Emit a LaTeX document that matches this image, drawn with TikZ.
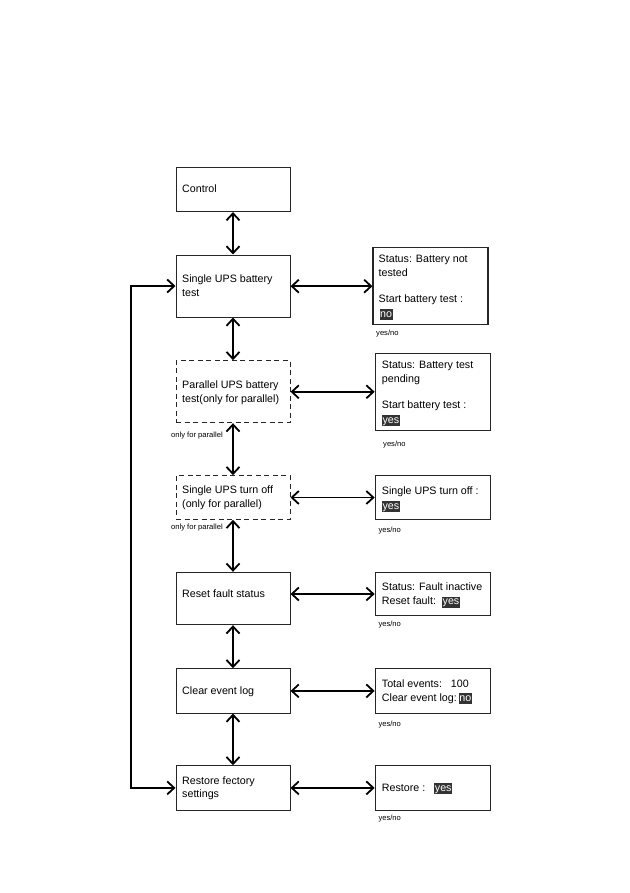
\documentclass[tikz,border=0pt]{standalone}
\usepackage{fontspec}
\setmainfont{Liberation Sans}
\usetikzlibrary{arrows.meta}
\definecolor{hl}{HTML}{333333}
\newcommand{\hlv}[1]{{\setlength{\fboxsep}{0.7pt}\colorbox{hl}{\textcolor{white}{\vphantom{Xy}#1}}}}
\tikzset{
  box/.style={draw=black!85, line width=1pt, minimum width=114pt, inner sep=0pt},
  dbox/.style={box, dash pattern=on 5pt off 3.5pt},
  rbox/.style={draw=black!85, line width=1.1pt, minimum width=115pt, inner sep=0pt},
  txt/.style={inner sep=0pt, anchor=west, font=\fontsize{10.7pt}{12pt}\selectfont, text height=7.7pt, text depth=0pt},
  small/.style={inner sep=0pt, anchor=west, font=\fontsize{7.6pt}{9pt}\selectfont, text height=5.5pt, text depth=0pt},
  conn/.style={line width=1.8pt, {Straight Barb[length=7pt,width=13pt]}-{Straight Barb[length=7pt,width=13pt]}}
}
\begin{document}
\begin{tikzpicture}[x=1pt,y=-1pt]
\useasboundingbox (0,0) rectangle (629,893);
% left boxes
\node[box, minimum height=44.5pt] (ctl) at (233,189.3) {};
\node[box, minimum height=62pt] (sbt) at (233,286) {};
\node[dbox, minimum height=62pt] (pbt) at (233,391.7) {};
\node[dbox, minimum height=43.6pt] (off) at (233,497.5) {};
\node[box, minimum height=52.4pt] (rst) at (233,598.5) {};
\node[box, minimum height=44.3pt] (clr) at (233,690.9) {};
\node[box, minimum height=44.3pt] (fac) at (233,787.9) {};
% left texts
\node[txt] (tctl) at (182,189) {Control};
\node[txt] (tsbt1) at (182,279) {Single UPS battery};
\node[txt] (tsbt2) at (182,292.5) {test};
\node[txt] (tpbt1) at (182,385) {Parallel UPS battery};
\node[txt] (tpbt2) at (182,399) {test(only for parallel)};
\node[txt] (toff1) at (182,490) {Single UPS turn off};
\node[txt] (toff2) at (182,504) {(only for parallel)};
\node[txt] (trst) at (182,594) {Reset fault status};
\node[txt] (tclr) at (182,690.5) {Clear event log};
\node[txt] (tfac1) at (182,780.5) {Restore fectory};
\node[txt] (tfac2) at (182,793.5) {settings};
\node[small] (op1) at (171,434.3) {only for parallel};
\node[small] (op2) at (171,527) {only for parallel};
% right boxes
\node[rbox, minimum height=77pt] (r1) at (430.5,286.2) {};
\node[rbox, minimum height=77pt] (r2) at (432.7,391.8) {};
\node[rbox, minimum height=43.6pt] (r3) at (432.7,497.5) {};
\node[rbox, minimum height=43.4pt] (r4) at (432.7,594) {};
\node[rbox, minimum height=44.3pt] (r5) at (432.7,690.9) {};
\node[rbox, minimum height=44.3pt] (r6) at (432.7,787.9) {};
% right texts
\node[txt] (t11) at (378.5,259) {Status: Battery not};
\node[txt] (t12) at (378.5,272.5) {tested};
\node[txt] (t13) at (378.5,298.3) {Start battery test :};
\node[txt] (t14) at (379.3,313.5) {\hlv{no}};
\node[txt] (t21) at (381.7,365) {Status: Battery test};
\node[txt] (t22) at (381.7,378.3) {pending};
\node[txt] (t23) at (381.7,404.3) {Start battery test :};
\node[txt] (t24) at (381.7,419.3) {\hlv{yes}};
\node[txt] (t31) at (381.7,490.7) {Single UPS turn off :};
\node[txt] (t32) at (381.7,505.7) {\hlv{yes}};
\node[txt] (t41) at (381.7,586.7) {Status: Fault inactive};
\node[txt] (t42) at (381.7,601) {Reset fault:\ \ \hlv{yes}};
\node[txt] (t51) at (381.7,684) {Total events:\ \ \ 100};
\node[txt] (t52) at (381.7,697.7) {Clear event log:\,\hlv{no}};
\node[txt] (t61) at (381.7,787.3) {Restore :\ \ \ \hlv{yes}};
% yes/no labels
\node[small] (y1) at (376,333) {yes/no};
\node[small] (y2) at (383,443.3) {yes/no};
\node[small] (y3) at (378.3,529.3) {yes/no};
\node[small] (y4) at (378.3,623.3) {yes/no};
\node[small] (y5) at (378.3,723.3) {yes/no};
\node[small] (y6) at (378.3,817.7) {yes/no};
% vertical connectors
\draw[conn] (ctl) -- (sbt);
\draw[conn] (sbt) -- (pbt);
\draw[conn] (pbt) -- (off);
\draw[conn] (off) -- (rst);
\draw[conn] (rst) -- (clr);
\draw[conn] (clr) -- (fac);
% horizontal connectors
\draw[conn] (r1.west -| sbt.east) -- (r1.west);
\draw[conn] (r2.west -| pbt.east) -- (r2.west);
\draw[conn] (r3.west -| off.east) -- (r3.west);
\draw[conn] (r4.west -| rst.east) -- (r4.west);
\draw[conn] (r5.west -| clr.east) -- (r5.west);
\draw[conn] (r6.west -| fac.east) -- (r6.west);
% loop
\draw[conn] (sbt.west) -- ++(-44.5,0) |- (fac.west);
\end{tikzpicture}
\end{document}
